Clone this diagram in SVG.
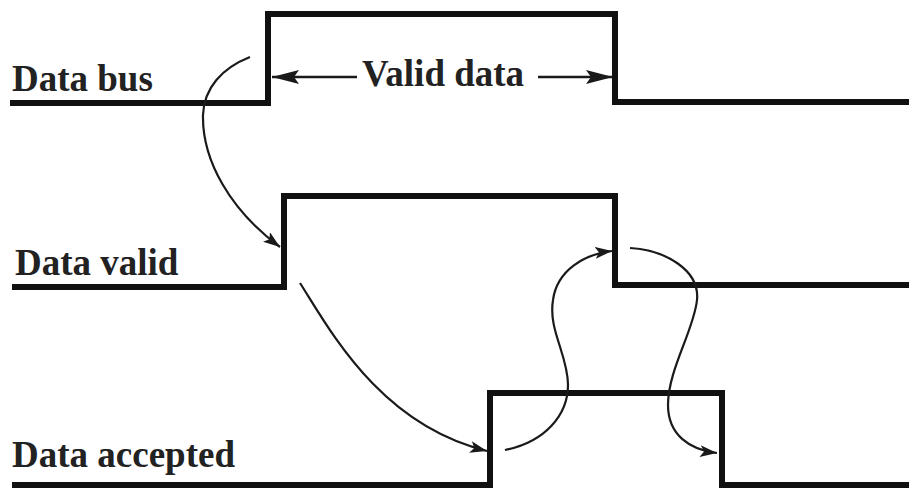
<svg xmlns="http://www.w3.org/2000/svg" width="909" height="489" viewBox="0 0 909 489">
<style>
.wave{fill:none;stroke:#111;stroke-width:6;stroke-linejoin:miter;stroke-linecap:butt}
.curve{fill:none;stroke:#1a1a1a;stroke-width:2.2}
.dim{fill:none;stroke:#1a1a1a;stroke-width:2.6}
.lbl{font-family:"Liberation Serif","Times New Roman",serif;font-weight:bold;font-size:37px;fill:#222}
</style>
<defs>
<marker id="ah" markerUnits="userSpaceOnUse" markerWidth="18" markerHeight="12" refX="17" refY="6" orient="auto">
<path d="M0,0 L17,6 L0,12 L4,6 z" fill="#1a1a1a"/>
</marker>
<marker id="ahd" markerUnits="userSpaceOnUse" markerWidth="28" markerHeight="16" refX="27" refY="8" orient="auto">
<path d="M0,1 L27,8 L0,15 L5,8 z" fill="#1a1a1a"/>
</marker>
</defs>
<rect width="909" height="489" fill="#fff"/>
<g id="data-bus">
<path class="wave" d="M10,103 H268 V14 H615 V102 H909"/>
<text class="lbl" x="12" y="91">Data bus</text>
</g>
<g id="valid-data">
<text class="lbl" x="362" y="86">Valid data</text>
</g>
<g id="data-valid">
<path class="wave" d="M12,287 H284 V196 H615 V285 H909"/>
<text class="lbl" x="15" y="275">Data valid</text>
</g>
<g id="data-accepted">
<path class="wave" d="M12,485 H490 V393 H722 V485 H909"/>
<text class="lbl" x="12" y="467">Data accepted</text>
</g>
<g id="connectors">
<path class="dim" d="M357,77 H272" marker-end="url(#ahd)"/>
<path class="dim" d="M538,77 H613" marker-end="url(#ahd)"/>
<path class="curve" d="M250,57 C222,68 204,88 203,115 C202,160 230,210 280,247" marker-end="url(#ah)"/>
<path class="curve" d="M300,283 C330,330 380,425 487,451" marker-end="url(#ah)"/>
<path class="curve" d="M505,450 C545,442 568,415 568,385 C568,355 548,330 553,300 C557,270 585,254 612,251" marker-end="url(#ah)"/>
<path class="curve" d="M630,248 C665,250 700,270 697,300 C694,330 668,370 668,405 C668,435 690,450 717,453" marker-end="url(#ah)"/>
</g>
</svg>
